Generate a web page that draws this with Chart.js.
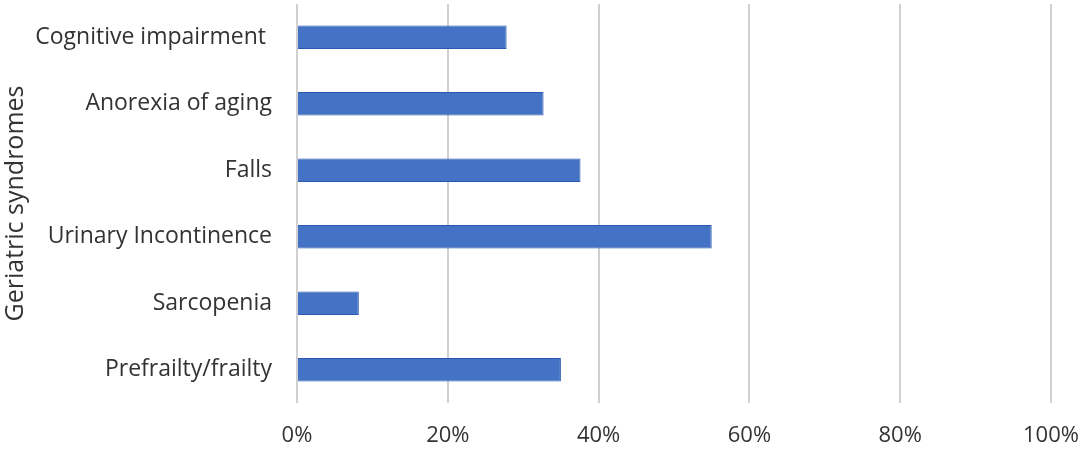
<!DOCTYPE html>
<html>
<head>
<meta charset="utf-8">
<script src="https://cdn.jsdelivr.net/npm/chart.js@4"></script>
<style>
  html, body { margin: 0; padding: 0; background: #fff; }
  #wrap { width: 1084px; height: 449px; }
</style>
</head>
<body>
<div id="wrap"><canvas id="chart"></canvas></div>
<script>
/* ── Data ── */
const categories = ["Cognitive impairment ", "Anorexia of aging", "Falls",
                    "Urinary Incontinence", "Sarcopenia", "Prefrailty/frailty"];
const shares     = [27.8, 32.7, 37.6, 55.0, 8.2, 35.0];   /* % of patients */
const tickStep   = 20;
const axisTitle  = "Geriatric syndromes";

const FONT = "'Open Sans', 'Noto Sans', sans-serif";
const TEXT = "#333333";
const GRID = "#d0d0d0";

new Chart(document.getElementById("chart").getContext("2d"), {
  type: "bar",
  data: {
    labels: categories,
    datasets: [{
      data: shares,
      backgroundColor: "#4472c4",
      borderColor: "#2a58b0",
      borderWidth: 1,
      categoryPercentage: 1,
      barPercentage: 0.35,
    }],
  },
  options: {
    indexAxis: "y",
    responsive: true, maintainAspectRatio: false, animation: false,
    layout: { padding: { top: 4, right: 33, bottom: 0, left: 0 } },
    plugins: { legend: { display: false }, tooltip: { enabled: false } },
    scales: {
      x: {
        min: 0, max: 100,
        ticks: { stepSize: tickStep, color: TEXT, padding: 20,
                 font: { family: FONT, size: 22 }, callback: v => v + "%" },
        grid: { color: GRID, lineWidth: 2, drawTicks: false },
        border: { display: false },
        afterFit: s => { s.height = 46; s.paddingLeft = 0; s.paddingRight = 0; },
      },
      y: {
        ticks: { color: TEXT, padding: 25, font: { family: FONT, size: 23 } },
        grid: { display: false, drawTicks: false },
        border: { display: false },
        title: { display: true, text: axisTitle, color: TEXT,
                 font: { family: FONT, size: 25 }, padding: { top: 1, bottom: 0 } },
        afterFit: s => { s.width = 297; s.paddingTop = 0; s.paddingBottom = 0; },
      },
    },
  },
});
</script>
</body>
</html>
